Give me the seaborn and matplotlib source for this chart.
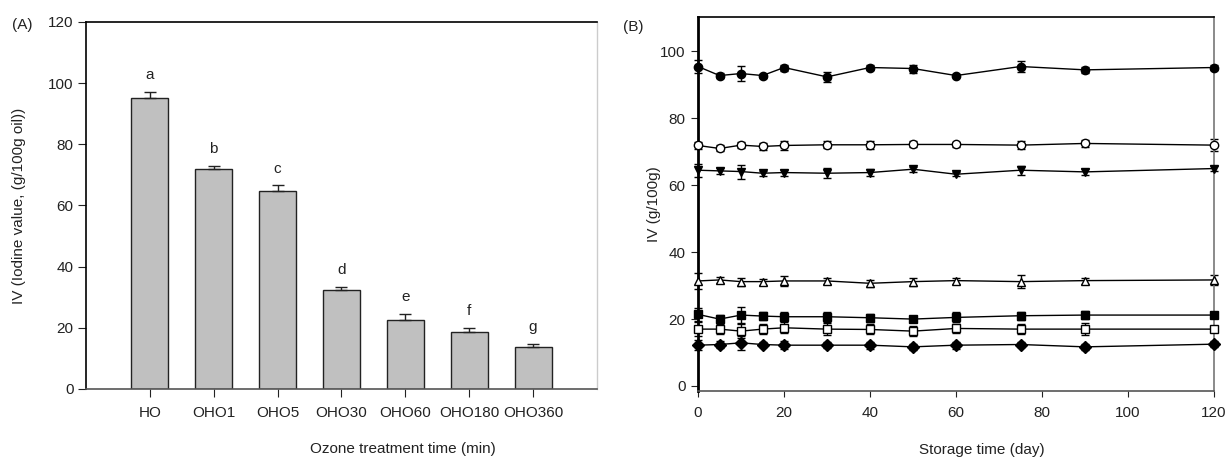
import numpy as np
import pandas as pd
import matplotlib
matplotlib.use("Agg")
import matplotlib.pyplot as plt
import seaborn as sns

# --- data (A) ---
treatments = ["HO", "OHO1", "OHO5", "OHO30", "OHO60", "OHO180", "OHO360"]
iv_mean = [95.2, 72.0, 64.8, 32.3, 22.4, 18.5, 13.8]
iv_err = [2.0, 1.0, 1.8, 1.1, 2.2, 1.4, 1.0]
letters = ["a", "b", "c", "d", "e", "f", "g"]

# --- data (B) ---
days = [0, 5, 10, 15, 20, 30, 40, 50, 60, 75, 90, 120]
iv_ho = [95.5, 92.8, 93.4, 92.8, 95.2, 92.4, 95.2, 94.9, 92.8, 95.5, 94.5, 95.2]
iv_oho1 = [71.9, 71.0, 72.0, 71.6, 71.9, 72.1, 72.1, 72.2, 72.2, 72.0, 72.5, 72.0]
iv_oho5 = [64.5, 64.3, 64.1, 63.6, 63.8, 63.6, 63.8, 64.8, 63.3, 64.5, 64.0, 65.0]
iv_oho30 = [31.4, 31.7, 31.2, 31.2, 31.4, 31.4, 30.7, 31.2, 31.5, 31.2, 31.5, 31.7]
iv_oho60 = [21.4, 20.0, 21.2, 20.9, 20.7, 20.7, 20.4, 20.0, 20.5, 21.0, 21.2, 21.2]
iv_oho180 = [17.0, 17.0, 16.4, 17.0, 17.4, 17.0, 16.9, 16.4, 17.2, 17.0, 17.0, 17.0]
iv_oho360 = [12.2, 12.4, 12.9, 12.4, 12.2, 12.2, 12.2, 11.7, 12.2, 12.4, 11.7, 12.5]

err_ho = [2.0, 0.8, 2.3, 0.6, 0.9, 1.6, 0.7, 1.2, 0.5, 1.5, 1.0, 0.8]
err_oho1 = [1.0, 0.9, 1.0, 1.0, 1.3, 1.0, 1.2, 0.9, 0.8, 1.3, 1.0, 1.8]
err_oho5 = [2.0, 1.0, 2.1, 0.8, 0.9, 1.5, 1.0, 0.8, 0.6, 1.4, 1.0, 0.8]
err_oho30 = [2.5, 1.0, 1.2, 0.9, 1.5, 1.0, 1.0, 1.2, 0.9, 2.0, 0.9, 1.5]
err_oho60 = [2.0, 1.2, 2.5, 1.2, 1.3, 1.5, 1.2, 1.0, 1.5, 1.2, 1.2, 0.8]
err_oho180 = [2.0, 1.5, 2.0, 1.5, 1.6, 1.8, 1.5, 1.6, 1.4, 1.5, 1.8, 0.8]
err_oho360 = [1.5, 1.0, 2.0, 0.8, 1.2, 0.9, 1.0, 1.0, 1.0, 0.8, 0.9, 0.8]

series = [
    ("HO", iv_ho, err_ho, "o", "black"),
    ("OHO1", iv_oho1, err_oho1, "o", "white"),
    ("OHO5", iv_oho5, err_oho5, "v", "black"),
    ("OHO30", iv_oho30, err_oho30, "^", "white"),
    ("OHO60", iv_oho60, err_oho60, "s", "black"),
    ("OHO180", iv_oho180, err_oho180, "s", "white"),
    ("OHO360", iv_oho360, err_oho360, "D", "black"),
]

sns.set_style("ticks")
plt.rcParams["font.family"] = ["Liberation Sans", "DejaVu Sans"]
plt.rcParams["font.size"] = 11
txt = "#222222"

fig = plt.figure(figsize=(12.3, 4.57), dpi=100)
ax1 = fig.add_axes([0.0699, 0.1488, 0.4154, 0.8031])
ax2 = fig.add_axes([0.5675, 0.1444, 0.4195, 0.8184])

# --- (A) bar chart ---
df_a = pd.DataFrame({"trt": treatments, "iv": iv_mean})
sns.barplot(data=df_a, x="trt", y="iv", color="#c0c0c0", edgecolor=txt,
            linewidth=1.0, width=0.58, saturation=1, ax=ax1)
xpos = np.arange(len(treatments))
ax1.errorbar(xpos, iv_mean, yerr=[np.zeros(len(iv_err)), iv_err], fmt="none",
             ecolor=txt, elinewidth=1.0, capsize=4.5, capthick=1.0)
for x, m, e, l in zip(xpos, iv_mean, iv_err, letters):
    ax1.text(x, m + e + 3.2, l, ha="center", va="bottom", fontsize=11, color=txt)

ax1.set_xlim(-1, 7)
ax1.set_ylim(0, 120)
ax1.set_yticks(range(0, 121, 20))
ax1.set_xlabel("Ozone treatment time (min)", fontsize=11, color=txt)
ax1.set_ylabel("IV (Iodine value, (g/100g oil))", fontsize=11, color=txt)
ax1.xaxis.set_label_coords(0.62, -0.145)
ax1.yaxis.set_label_coords(-0.118, 0.5)
ax1.tick_params(axis="x", direction="out", length=6, pad=6, colors=txt)
ax1.tick_params(axis="y", direction="out", length=6, pad=3, colors=txt)
for s in ["left", "top"]:
    ax1.spines[s].set_visible(True)
    ax1.spines[s].set_color("black")
    ax1.spines[s].set_linewidth(1.2)
ax1.spines["bottom"].set_color("#555555")
ax1.spines["bottom"].set_linewidth(1.2)
ax1.spines["right"].set_visible(True)
ax1.spines["right"].set_color("#cccccc")
ax1.spines["right"].set_linewidth(1.0)

# --- (B) storage ---
for name, vals, errs, mk, fc in series:
    df_b = pd.DataFrame({"day": days, "iv": vals})
    ax2.errorbar(days, vals, yerr=errs, fmt="none", ecolor="black",
                 elinewidth=1.0, capsize=3, capthick=1.0, clip_on=False, zorder=2)
    sns.lineplot(data=df_b, x="day", y="iv", color="black", linewidth=1.0,
                 marker=mk, markersize=6, markerfacecolor=fc,
                 markeredgecolor="black", markeredgewidth=1.0,
                 clip_on=False, zorder=3, ax=ax2)

ax2.set_xlim(0, 120)
ax2.set_ylim(-1.5, 110.3)
ax2.set_xticks(range(0, 121, 20))
ax2.set_yticks(range(0, 101, 20))
ax2.set_xlabel("Storage time (day)", fontsize=11, color=txt)
ax2.set_ylabel("IV (g/100g)", fontsize=11, color=txt)
ax2.xaxis.set_label_coords(0.55, -0.140)
ax2.yaxis.set_label_coords(-0.072, 0.5)
ax2.tick_params(axis="x", direction="out", length=4, pad=7, colors=txt)
ax2.tick_params(axis="y", direction="out", length=5, pad=4, colors=txt)
ax2.spines["left"].set_color("black")
ax2.spines["left"].set_linewidth(2.0)
ax2.spines["top"].set_visible(True)
ax2.spines["top"].set_color("black")
ax2.spines["top"].set_linewidth(1.2)
ax2.spines["bottom"].set_color("#555555")
ax2.spines["bottom"].set_linewidth(1.2)
ax2.spines["right"].set_visible(True)
ax2.spines["right"].set_color("#777777")
ax2.spines["right"].set_linewidth(1.2)

fig.text(12 / 1230, 1 - 25 / 457, "(A)", ha="left", va="center", fontsize=11, color=txt)
fig.text(623 / 1230, 1 - 27 / 457, "(B)", ha="left", va="center", fontsize=11, color=txt)

fig.savefig("out.png", dpi=100)
